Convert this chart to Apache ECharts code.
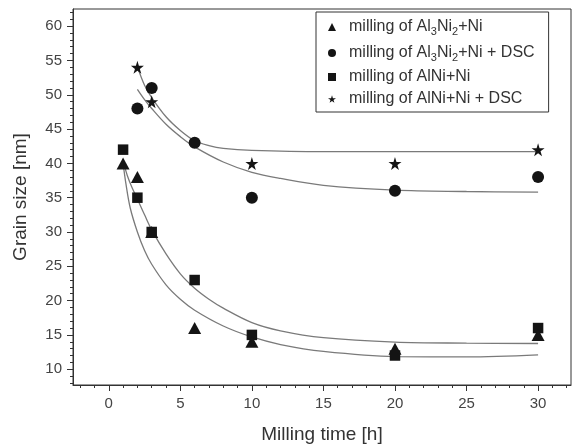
<!DOCTYPE html>
<html>
<head>
    <meta charset="utf-8">
    <script src="https://cdn.jsdelivr.net/npm/echarts@6/dist/echarts.min.js"></script>
</head>
<body style="margin:0;background:#fff">
<div id="main" style="width:574px;height:446px;"></div>
<script type="text/javascript">
    // measured grain sizes
    const timeAl3Ni2 = [1, 2, 3, 6, 10, 20, 30];
    const sizeAl3Ni2 = [40, 38, 30, 16, 14, 13, 15];
    const timeAl3Ni2Dsc = [2, 3, 6, 10, 20, 30];
    const sizeAl3Ni2Dsc = [48, 51, 43, 35, 36, 38];
    const timeAlNi = [1, 2, 3, 6, 10, 20, 30];
    const sizeAlNi = [42, 35, 30, 23, 15, 12, 16];
    const timeAlNiDsc = [2, 3, 10, 20, 30];
    const sizeAlNiDsc = [54, 49, 40, 40, 42];

    // fit curves
    const fitAl3Ni2 = [[1.0, 40], [1.2, 37], [1.5, 33.5], [2, 30], [2.5, 27.3], [3, 25.3], [4, 22.3], [5, 20.2],
        [6, 18.6], [8, 16.3], [10, 14.7], [12, 13.6], [15, 12.6], [20, 11.85], [25, 11.8], [30, 12.1]];
    const fitAlNi = [[1.05, 40], [1.3, 38.2], [1.6, 36.6], [2, 34.8], [2.5, 32.5], [3, 30.3], [4, 26.8], [5, 23.9],
        [6, 21.8], [7, 20.2], [8, 18.9], [10, 16.8], [12, 15.6], [15, 14.6], [20, 13.95], [25, 13.8], [30, 13.75]];
    const fitAl3Ni2Dsc = [[2, 50.8], [2.5, 49.3], [3, 48], [4, 45.7], [5, 43.9], [6, 42.4], [8, 40.2], [10, 38.7],
        [12, 37.8], [15, 36.8], [20, 36.1], [25, 35.9], [30, 35.8]];
    const fitAlNiDsc = [[2.1, 53.5], [2.5, 51.4], [3, 49.6], [4, 46.8], [5, 44.8], [6, 43.3], [7, 42.6], [8, 42.2],
        [10, 41.9], [15, 41.7], [20, 41.7], [30, 41.7]];

    const xMajor = [0, 5, 10, 15, 20, 25, 30];
    const yMajor = [10, 15, 20, 25, 30, 35, 40, 45, 50, 55, 60];
    const xMinor = [];
    for (let i = -2; i <= 32; i++) xMinor.push(i);
    const yMinor = [];
    for (let i = 8; i <= 62; i++) yMinor.push(i);

    const names = ['Al3Ni2', 'Al3Ni2Dsc', 'AlNi', 'AlNiDsc'];
    const labels = {
        Al3Ni2: '{a|milling of Al}{s|3}{a|Ni}{s|2}{a|+Ni}',
        Al3Ni2Dsc: '{a|milling of Al}{s|3}{a|Ni}{s|2}{a|+Ni + DSC}',
        AlNi: '{a|milling of AlNi+Ni}',
        AlNiDsc: '{a|milling of AlNi+Ni + DSC}'
    };

    const FONT = '"Liberation Sans", Arial, sans-serif';
    const STAR = 'path://M50,0 L61,35 L98,35 L68,57 L79,91 L50,70 L21,91 L32,57 L2,35 L39,35 Z';
    const INK = '#141414';
    const FIT = '#7a7a7a';

    function zip(xs, ys) {
        return xs.map((x, i) => [x, ys[i]]);
    }

    function fitLine(data) {
        return {
            type: 'line', data: data, smooth: 0.35, showSymbol: false, silent: true,
            lineStyle: {color: FIT, width: 1.3}, z: 1
        };
    }

    function axisBase(min, max) {
        return {type: 'value', min: min, max: max, splitLine: {show: false}};
    }

    const myChart = echarts.init(document.getElementById('main'), null, {renderer: 'canvas'});

    const option = {
        backgroundColor: '#fff',
        animation: false,
        grid: {left: 73, right: 3, top: 9, bottom: 61, show: true, borderColor: '#333', borderWidth: 1,
            outerBoundsMode: 'none'},
        legend: {
            data: names, orient: 'vertical', left: 316, top: 12,
            borderColor: '#333', borderWidth: 1, padding: [5, 14, 5, 12],
            itemWidth: 8, itemHeight: 8, itemGap: 6,
            formatter: name => labels[name],
            textStyle: {
                padding: [0, 0, 0, 8],
                rich: {
                    a: {fontSize: 16, fontFamily: FONT, color: '#333', lineHeight: 18},
                    s: {fontSize: 11, fontFamily: FONT, color: '#333', padding: [9, 0, 0, 0], lineHeight: 18}
                }
            }
        },
        xAxis: [
            Object.assign(axisBase(-2.5, 32.3), {
                name: 'Milling time [h]', nameLocation: 'middle', nameGap: 40,
                nameTextStyle: {fontSize: 19, fontFamily: FONT, color: '#333'},
                axisLine: {onZero: false, lineStyle: {color: '#333', width: 1}},
                axisTick: {customValues: xMajor, length: 6, lineStyle: {color: '#333'}},
                axisLabel: {customValues: xMajor, margin: 11, fontSize: 15, fontFamily: FONT, color: '#444'}
            }),
            Object.assign(axisBase(-2.5, 32.3), {
                position: 'bottom',
                axisLine: {show: false, onZero: false},
                axisTick: {customValues: xMinor, length: 3, lineStyle: {color: '#333'}},
                axisLabel: {show: false}
            })
        ],
        yAxis: [
            Object.assign(axisBase(7.7, 62.5), {
                name: 'Grain size [nm]', nameLocation: 'middle', nameGap: 43,
                nameTextStyle: {fontSize: 19, fontFamily: FONT, color: '#333'},
                axisLine: {show: true, onZero: false, lineStyle: {color: '#333', width: 1}},
                axisTick: {show: true, customValues: yMajor, length: 6, lineStyle: {color: '#333'}},
                axisLabel: {customValues: yMajor, margin: 11, fontSize: 15, fontFamily: FONT, color: '#444'}
            }),
            Object.assign(axisBase(7.7, 62.5), {
                position: 'left',
                axisLine: {show: false, onZero: false},
                axisTick: {show: true, customValues: yMinor, length: 3, lineStyle: {color: '#333'}},
                axisLabel: {show: false}
            })
        ],
        series: [
            fitLine(fitAl3Ni2),
            fitLine(fitAlNi),
            fitLine(fitAl3Ni2Dsc),
            fitLine(fitAlNiDsc),
            {name: 'AlNi', type: 'scatter', symbol: 'rect', symbolSize: 10.5,
                itemStyle: {color: INK, opacity: 1}, data: zip(timeAlNi, sizeAlNi), z: 3},
            {name: 'Al3Ni2', type: 'scatter', symbol: 'triangle', symbolSize: [13, 12],
                itemStyle: {color: INK, opacity: 1}, data: zip(timeAl3Ni2, sizeAl3Ni2), z: 3},
            {name: 'Al3Ni2Dsc', type: 'scatter', symbol: 'circle', symbolSize: 12,
                itemStyle: {color: INK, opacity: 1}, data: zip(timeAl3Ni2Dsc, sizeAl3Ni2Dsc), z: 3},
            {name: 'AlNiDsc', type: 'scatter', symbol: STAR, symbolSize: 13,
                itemStyle: {color: INK, opacity: 1}, data: zip(timeAlNiDsc, sizeAlNiDsc), z: 3}
        ]
    };

    myChart.setOption(option);
</script>
</body>
</html>
